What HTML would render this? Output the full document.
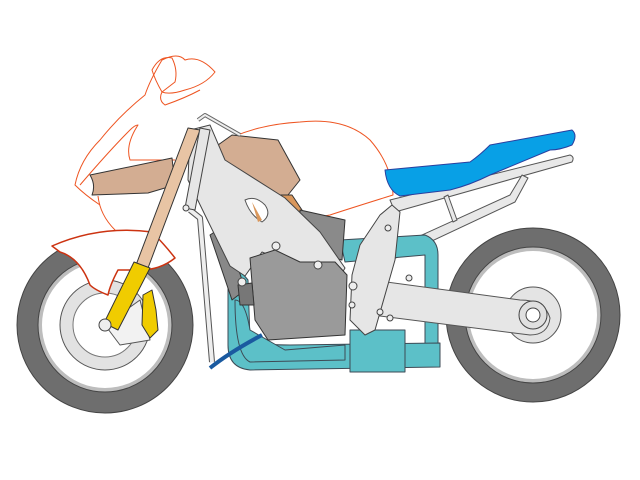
<!DOCTYPE html>
<html><head><meta charset="utf-8"><style>html,body{margin:0;padding:0;background:#fff}svg{display:block}</style></head>
<body>
<svg width="640" height="480" viewBox="0 0 640 480" xmlns="http://www.w3.org/2000/svg" stroke-linejoin="round">
<!-- fairing outlines -->
<g fill="none" stroke="#ee5522" stroke-width="1">
<path d="M100,205 Q85,195 75,185 Q80,160 100,140 Q120,115 145,95 Q150,80 162,60 Q178,52 185,60 Q200,55 215,72 Q205,85 185,90 Q170,95 162,92 Q158,100 165,105 Q185,98 200,90"/>
<path d="M162,92 Q155,80 152,70 Q160,55 172,58 Q178,70 175,82 Z"/>
<path d="M80,185 Q110,150 130,130 Q135,125 138,125 Q125,145 130,160 L175,160"/>
<path d="M98,196 Q100,215 115,230 Q120,240 120,245"/>
<path d="M218,145 Q250,125 300,122 Q345,117 370,140 Q392,165 393,195 Q345,210 330,215 Q300,222 270,200"/>
</g>
<!-- front wheel -->
<circle cx="105" cy="325" r="88" fill="#6e6e6e" stroke="#444"/>
<circle cx="105" cy="325" r="67" fill="#bdbdbd" stroke="#444"/>
<circle cx="105" cy="325" r="63" fill="#fff"/>
<circle cx="105" cy="325" r="45" fill="#e2e2e2" stroke="#555"/>
<circle cx="105" cy="325" r="32" fill="#fff" stroke="#777"/>
<path d="M105,325 L140,300 L150,340 L120,345 Z" fill="#f2f2f2" stroke="#555"/>
<!-- rear wheel -->
<circle cx="533" cy="315" r="87" fill="#6e6e6e" stroke="#444"/>
<circle cx="533" cy="315" r="68" fill="#bdbdbd" stroke="#444"/>
<circle cx="533" cy="315" r="64" fill="#fff"/>
<circle cx="533" cy="315" r="28" fill="#e4e4e4" stroke="#555"/>
<!-- rear subframe -->
<g fill="#e8e8e8" stroke="#555" stroke-width="1">
<path d="M390,200 L570,155 Q575,157 572,162 L395,212 Z"/>
<path d="M378,255 L510,195 L522,175 L528,178 L515,202 L385,263 Z"/>
<path d="M448,195 L457,220 L453,222 L444,197 Z"/>
</g>
<!-- seat -->
<path d="M385,170 L470,162 Q480,155 490,145 L572,130 Q578,135 572,145 Q560,150 550,150 L490,175 Q470,185 450,190 L400,196 Q387,190 385,170 Z" fill="#08a0e6" stroke="#2a3f9f" stroke-width="1"/>
<!-- exhaust -->
<g fill="#5cc0c8" stroke="#3d4a55" stroke-width="1">
<path d="M340,240 L425,235 Q438,240 438,255 L438,345 L425,345 L425,255 L345,262 Z"/>
<path d="M228,278 L238,268 L248,280 L250,340 Q260,345 290,345 L440,343 L440,367 L250,370 Q228,368 228,345 Z"/>
<path d="M235,300 Q245,300 250,330 L285,350 L345,345 L345,360 L250,362 Q235,355 235,300 Z"/>
<rect x="350" y="330" width="55" height="42"/>
</g>
<!-- swingarm -->
<path d="M372,280 L520,300 Q545,300 550,318 Q548,335 530,335 L372,315 Z" fill="#e6e6e6" stroke="#555"/>
<circle cx="533" cy="315" r="14" fill="#e0e0e0" stroke="#444"/>
<circle cx="533" cy="315" r="7" fill="#fff" stroke="#444"/>
<!-- rear frame plate -->
<path d="M380,215 L392,205 L400,212 L395,260 L375,330 L365,335 L350,320 L352,275 L360,245 Z" fill="#e6e6e6" stroke="#444"/>
<!-- fuel tank brown -->
<path d="M218,145 L232,135 L278,140 L300,180 L288,195 L260,198 L225,175 Z" fill="#d3ad92" stroke="#333"/>
<path d="M278,195 L298,230 L312,225 L292,195 Z" fill="#d9975c" stroke="#333"/>
<!-- engine back -->
<path d="M300,210 L345,220 L342,260 L300,250 Z" fill="#8a8a8a" stroke="#333"/>
<path d="M210,235 L225,225 L245,290 L232,300 Z" fill="#888" stroke="#333"/>
<!-- main frame -->
<path d="M190,130 L210,125 L225,160 L285,198 L320,232 L345,268 L332,290 L300,268 L262,252 L245,276 L230,266 L205,215 L188,180 Z" fill="#e6e6e6" stroke="#444"/>
<path d="M245,200 Q255,195 265,205 Q272,215 262,222 Q250,215 245,200 Z" fill="#fff" stroke="#555"/>
<path d="M252,202 L262,220 L258,222 Z" fill="#d9975c"/>
<!-- engine -->
<path d="M250,258 L275,250 L300,262 L335,262 L347,275 L345,335 L268,340 L255,320 Z" fill="#9a9a9a" stroke="#333"/>
<path d="M238,285 L252,283 L254,305 L240,305 Z" fill="#777" stroke="#333"/>
<!-- brake line blue -->
<path d="M210,368 Q230,352 262,335" fill="none" stroke="#1a5aa0" stroke-width="4"/>
<!-- radiator line -->
<path d="M190,210 L200,218 L212,362" fill="none" stroke="#555" stroke-width="6"/>
<path d="M190,210 L200,218 L212,362" fill="none" stroke="#eee" stroke-width="4"/>
<!-- handlebar -->
<path d="M198,120 L205,115 L240,135" fill="none" stroke="#666" stroke-width="4"/>
<path d="M198,120 L205,115 L240,135" fill="none" stroke="#eee" stroke-width="2"/>
<!-- air intake tan -->
<path d="M90,175 L172,158 L175,185 L148,193 L92,195 Q96,185 90,175 Z" fill="#d3ad92" stroke="#333"/>
<!-- fender -->
<path d="M52,246 Q100,225 152,232 Q165,245 175,258 Q160,270 140,270 L118,270 Q110,285 108,295 Q95,290 90,285 Q80,258 60,252 Z" fill="#fff" stroke="#cc3311" stroke-width="1.5"/>
<!-- fork -->
<path d="M188,128 L200,130 L148,268 L136,265 Z" fill="#e8c4a4" stroke="#333"/>
<path d="M200,128 L210,130 L195,210 L185,208 Z" fill="#e6e6e6" stroke="#444"/>
<path d="M134,262 L150,268 L118,330 L104,323 Z" fill="#f0cc00" stroke="#333"/>
<path d="M143,295 L152,290 L156,310 L158,330 L150,338 L142,325 Z" fill="#f0cc00" stroke="#333"/>
<circle cx="105" cy="325" r="6" fill="#eee" stroke="#444"/>
<!-- bolts -->
<g fill="#eee" stroke="#444">
<circle cx="276" cy="246" r="4"/><circle cx="318" cy="265" r="4"/><circle cx="242" cy="282" r="4"/>
<circle cx="353" cy="286" r="4"/><circle cx="388" cy="228" r="3"/><circle cx="409" cy="278" r="3"/>
<circle cx="352" cy="305" r="3"/><circle cx="380" cy="312" r="3"/><circle cx="390" cy="318" r="3"/>
<circle cx="186" cy="208" r="3"/>
</g>
</svg>
</body></html>
